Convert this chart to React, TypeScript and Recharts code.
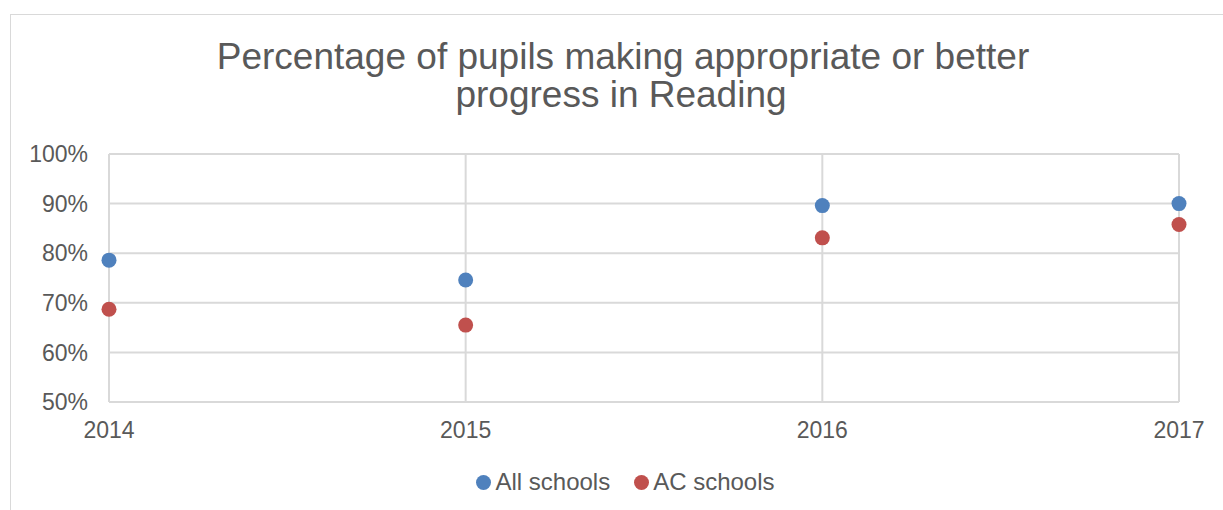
import React from 'react';
import { ScatterChart, Scatter, XAxis, YAxis, CartesianGrid, Legend } from 'recharts';

const years = [2014, 2015, 2016, 2017];
const allSchools = [78.6, 74.6, 89.6, 90.0];
const acSchools = [68.7, 65.5, 83.1, 85.8];
const yTicks = [50, 60, 70, 80, 90, 100];
const titleLines = ['Percentage of pupils making appropriate or better', 'progress in Reading'];

const allData = years.map((y, i) => ({ year: y, value: allSchools[i] }));
const acData = years.map((y, i) => ({ year: y, value: acSchools[i] }));

const FONT = 'Arial, "Liberation Sans", sans-serif';
const GRAY = '#595959';
const GRID = '#D9D9D9';
const BLUE = '#4F81BD';
const RED = '#C0504D';

const legendItems = [
  { name: 'All schools', color: BLUE },
  { name: 'AC schools', color: RED },
];

const LegendContent = () => (
  <div style={{ display: 'flex', justifyContent: 'center', alignItems: 'center', height: 48, fontFamily: FONT, fontSize: 24, color: GRAY, paddingLeft: 72, boxSizing: 'border-box' }}>
    {legendItems.map((it, i) => (
      <div key={it.name} style={{ display: 'flex', alignItems: 'center', marginLeft: i === 0 ? 0 : 24 }}>
        <svg width={15} height={15} style={{ marginRight: 4 }}>
          <circle cx={7.5} cy={7.5} r={7.5} fill={it.color} />
        </svg>
        <span>{it.name}</span>
      </div>
    ))}
  </div>
);

export default function App() {
  return (
    <div style={{ position: 'absolute', left: 0, top: 0, width: 1223, height: 510, overflow: 'hidden', background: '#fff' }}>
      <div style={{ position: 'absolute', left: 10, top: 14, width: 1400, height: 700, border: `1px solid ${GRID}`, boxSizing: 'border-box' }} />
      <svg width={1223} height={130} style={{ position: 'absolute', left: 0, top: 0 }}>
        <text x={623} y={69} textAnchor="middle" fontFamily={FONT} fontSize={37} fill={GRAY}>{titleLines[0]}</text>
        <text x={621} y={107} textAnchor="middle" fontFamily={FONT} fontSize={37} fill={GRAY}>{titleLines[1]}</text>
      </svg>
      <div style={{ position: 'absolute', left: 0, top: 0 }}>
        <ScatterChart width={1223} height={510} margin={{ top: 154, right: 44, bottom: 4, left: 0 }}>
          <CartesianGrid stroke={GRID} strokeWidth={2} horizontal={true} vertical={true} />
          <XAxis
            type="number"
            dataKey="year"
            domain={[2014, 2017]}
            ticks={years}
            allowDecimals={false}
            height={56}
            tickSize={0}
            tickMargin={20}
            axisLine={{ stroke: GRID, strokeWidth: 2 }}
            tickLine={false}
            tick={{ fill: GRAY, fontSize: 23, fontFamily: FONT }}
            interval={0}
          />
          <YAxis
            type="number"
            dataKey="value"
            domain={[50, 100]}
            ticks={yTicks}
            width={109}
            tickSize={0}
            tickMargin={21}
            axisLine={{ stroke: GRID, strokeWidth: 2 }}
            tickLine={false}
            tickFormatter={(v: number) => `${v}%`}
            tick={{ fill: GRAY, fontSize: 23, fontFamily: FONT }}
            interval={0}
          />
          <Legend verticalAlign="bottom" height={48} content={<LegendContent />} />
          <Scatter name="All schools" data={allData} fill={BLUE} isAnimationActive={false}
            shape={(p: any) => <circle cx={p.cx} cy={p.cy} r={7.5} fill={BLUE} />} />
          <Scatter name="AC schools" data={acData} fill={RED} isAnimationActive={false}
            shape={(p: any) => <circle cx={p.cx} cy={p.cy} r={7.5} fill={RED} />} />
        </ScatterChart>
      </div>
    </div>
  );
}
